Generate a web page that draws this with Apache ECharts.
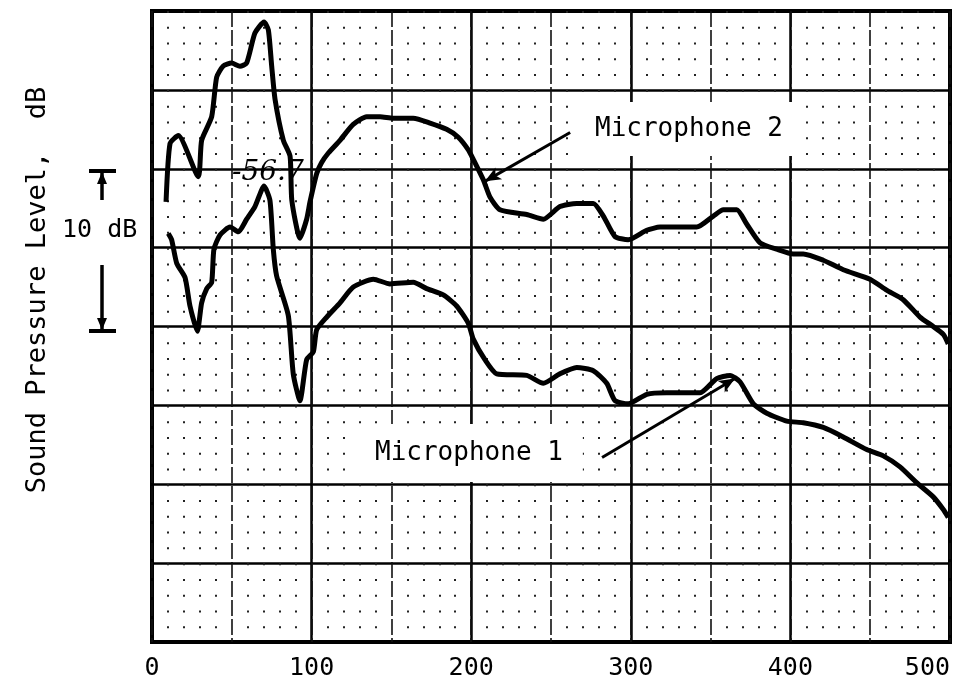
<!DOCTYPE html>
<html>
<head>
<meta charset="utf-8">
<title>Sound Pressure Level</title>
<script src="https://cdn.jsdelivr.net/npm/echarts@6/dist/echarts.min.js"></script>
<style>
  html, body { margin: 0; padding: 0; background: #fff; }
  #chart { width: 960px; height: 684px; }
</style>
</head>
<body>
<div id="chart"></div>
<script>
  // Microphone 2 (upper trace): frequency in Hz, level in dB (relative scale)
  var mic2Freq = [8.8, 11.3, 16.5, 29, 31.1, 37.4, 40.5, 44.5, 49.9, 55.1, 59.3, 64.5, 70.2, 72.9, 75, 77.1, 82.3, 86.5, 87.6, 92.7, 96.9, 99, 103.2, 106.3, 110.5, 117.8, 125.9, 134.5, 142.9, 151, 163.7, 174.2, 184.6, 191.9, 198.2, 201.3, 207.6, 211.8, 218, 234.8, 245.2, 255.6, 266.1, 276.5, 282.8, 290.1, 298.4, 310, 318.3, 341.3, 351.7, 358, 366.4, 372.6, 381, 391.4, 401.8, 408.1, 420.6, 433.1, 449.9, 460.3, 470.7, 481.2, 489.5, 495.8, 498.9]
  var mic2Level = [27.9, 31.6, 32.1, 29.5, 31.8, 33.3, 35.8, 36.5, 36.7, 36.5, 36.7, 38.6, 39.3, 38.8, 36.5, 34.4, 31.8, 30.8, 28.0, 25.6, 26.8, 27.9, 29.7, 30.4, 31.0, 31.8, 32.8, 33.3, 33.3, 33.2, 33.2, 32.9, 32.5, 32.0, 31.2, 30.6, 29.3, 28.2, 27.4, 27.1, 26.8, 27.6, 27.8, 27.8, 27.0, 25.7, 25.5, 26.1, 26.3, 26.3, 27.0, 27.4, 27.4, 26.5, 25.3, 24.9, 24.6, 24.6, 24.2, 23.6, 23.0, 22.3, 21.7, 20.6, 20.0, 19.5, 18.9]

  // Microphone 1 (lower trace)
  var mic1Freq = [10.2, 12.3, 15.5, 20.7, 23.8, 28.4, 31.1, 34.3, 37.4, 38.8, 42.6, 48.9, 54.1, 59.3, 64.5, 70.2, 73.9, 76, 78.1, 85.4, 88.5, 92.7, 96.9, 101.1, 103.2, 109.5, 117.8, 126.1, 138.7, 149.1, 163.7, 172.1, 182.5, 190.9, 198.2, 201.3, 208.6, 216, 234.8, 245.2, 255.6, 266.1, 276.5, 284.9, 290.1, 298.4, 310, 322.5, 343.4, 353.8, 362.2, 368.4, 376.8, 385.2, 397.7, 408.1, 420.6, 433.1, 447.8, 458.2, 468.7, 479.1, 489.5, 495.8, 498.9]
  var mic1Level = [25.9, 25.5, 24.0, 23.1, 21.3, 19.7, 21.5, 22.4, 22.8, 24.9, 25.8, 26.3, 26.0, 26.8, 27.6, 28.9, 28.0, 24.9, 23.2, 20.7, 17.0, 15.3, 17.9, 18.4, 19.8, 20.6, 21.5, 22.5, 23.0, 22.7, 22.8, 22.4, 22.0, 21.3, 20.2, 19.2, 17.9, 17.0, 16.9, 16.4, 17.0, 17.4, 17.2, 16.4, 15.3, 15.1, 15.7, 15.8, 15.8, 16.7, 16.9, 16.5, 15.1, 14.5, 14.0, 13.9, 13.6, 13.0, 12.2, 11.8, 11.1, 10.1, 9.2, 8.4, 7.9]

  // arrows: [tail, head] in data units
  var mic2Arrow = [[262, 32.3], [208.6, 29.2]]
  var mic1Arrow = [[282, 11.7], [365.3, 16.7]]

  var mono = '"DejaVu Sans Mono", "Liberation Mono", monospace'

  function pairs(xs, ys) {
    return xs.map(function (x, i) { return [x, ys[i]] })
  }

  var gridTop = 11, gridBottom = 42
  var dbPx = (684 - gridTop - gridBottom) / 40   // one dB in pixels, for the dot rows

  var chart = echarts.init(document.getElementById('chart'))

  var arrowLine = function (arrow) {
    return {
      silent: true,
      symbol: ['none', 'arrow'],
      symbolSize: [10, 16],
      label: { show: false },
      lineStyle: { color: '#000', width: 3, type: 'solid' },
      data: [[{ coord: arrow[0] }, { coord: arrow[1] }]]
    }
  }

  var option = {
    animation: false,
    backgroundColor: '#fff',
    grid: {
      left: 152, right: 10, top: gridTop, bottom: gridBottom,
      show: true, borderColor: '#000', borderWidth: 4
    },
    xAxis: [
      {
        type: 'value', min: 0, max: 500, interval: 100,
        axisLine: { show: false },
        axisTick: { show: false },
        axisLabel: { color: '#000', fontFamily: mono, fontSize: 25, margin: 14, alignMaxLabel: 'right' },
        splitLine: { lineStyle: { color: '#000', width: 2.5 } }
      },
      {
        type: 'value', min: 0, max: 500, interval: 50,
        axisLine: { show: false },
        axisTick: { show: false },
        axisLabel: { show: false },
        splitLine: { lineStyle: { color: '#111', width: 1.6, type: [16, 3] } },
        minorTick: { show: false, splitNumber: 5 },
        minorSplitLine: {
          show: true,
          lineStyle: { color: '#222', width: 2, type: [2, dbPx - 2] }
        }
      }
    ],
    yAxis: {
      type: 'value', min: 0, max: 40, interval: 5,
      axisLine: { show: false },
      axisTick: { show: false },
      axisLabel: { show: false },
      splitLine: { lineStyle: { color: '#000', width: 2.5 } }
    },
    series: [
      {
        name: 'Microphone 2',
        type: 'line',
        data: pairs(mic2Freq, mic2Level),
        showSymbol: false,
        smooth: 0.2,
        z: 5,
        lineStyle: { color: '#000', width: 5 },
        markLine: arrowLine(mic2Arrow)
      },
      {
        name: 'Microphone 1',
        type: 'line',
        data: pairs(mic1Freq, mic1Level),
        showSymbol: false,
        smooth: 0.2,
        z: 5,
        lineStyle: { color: '#000', width: 5 },
        markLine: arrowLine(mic1Arrow)
      }
    ],
    graphic: [
      {
        type: 'text', z: 50,
        style: {
          text: 'Microphone 2', x: 573, y: 129, fill: '#000',
          font: '26px ' + mono, verticalAlign: 'middle',
          backgroundColor: '#fff', padding: [14, 20, 14, 22]
        }
      },
      {
        type: 'text', z: 50,
        style: {
          text: 'Microphone 1', x: 349, y: 453, fill: '#000',
          font: '26px ' + mono, verticalAlign: 'middle',
          backgroundColor: '#fff', padding: [16, 20, 16, 26]
        }
      },
      {
        type: 'text', z: 50,
        style: {
          text: '-56.7', x: 232, y: 187, fill: '#000',
          font: 'italic 28px "DejaVu Serif", serif', verticalAlign: 'bottom'
        }
      },
      {
        type: 'text', z: 50, x: 38, y: 290, rotation: Math.PI / 2,
        style: {
          text: 'Sound Pressure Level,  dB', fill: '#000',
          font: '27px ' + mono, align: 'center', verticalAlign: 'middle'
        }
      },
      // 10 dB scale marker
      {
        type: 'text', z: 50,
        style: { text: '10 dB', x: 62, y: 230, fill: '#000', font: '25px ' + mono, verticalAlign: 'middle' }
      },
      { type: 'line', z: 50, shape: { x1: 89, y1: 171, x2: 116, y2: 171 }, style: { stroke: '#000', lineWidth: 4 } },
      { type: 'line', z: 50, shape: { x1: 102, y1: 171, x2: 102, y2: 200 }, style: { stroke: '#000', lineWidth: 3.5 } },
      { type: 'polygon', z: 50, shape: { points: [[97, 184], [107, 184], [102, 172]] }, style: { fill: '#000' } },
      { type: 'line', z: 50, shape: { x1: 102, y1: 265, x2: 102, y2: 331 }, style: { stroke: '#000', lineWidth: 3.5 } },
      { type: 'polygon', z: 50, shape: { points: [[97, 318], [107, 318], [102, 330]] }, style: { fill: '#000' } },
      { type: 'line', z: 50, shape: { x1: 89, y1: 331, x2: 116, y2: 331 }, style: { stroke: '#000', lineWidth: 4 } }
    ]
  }

  chart.setOption(option)
</script>
</body>
</html>
